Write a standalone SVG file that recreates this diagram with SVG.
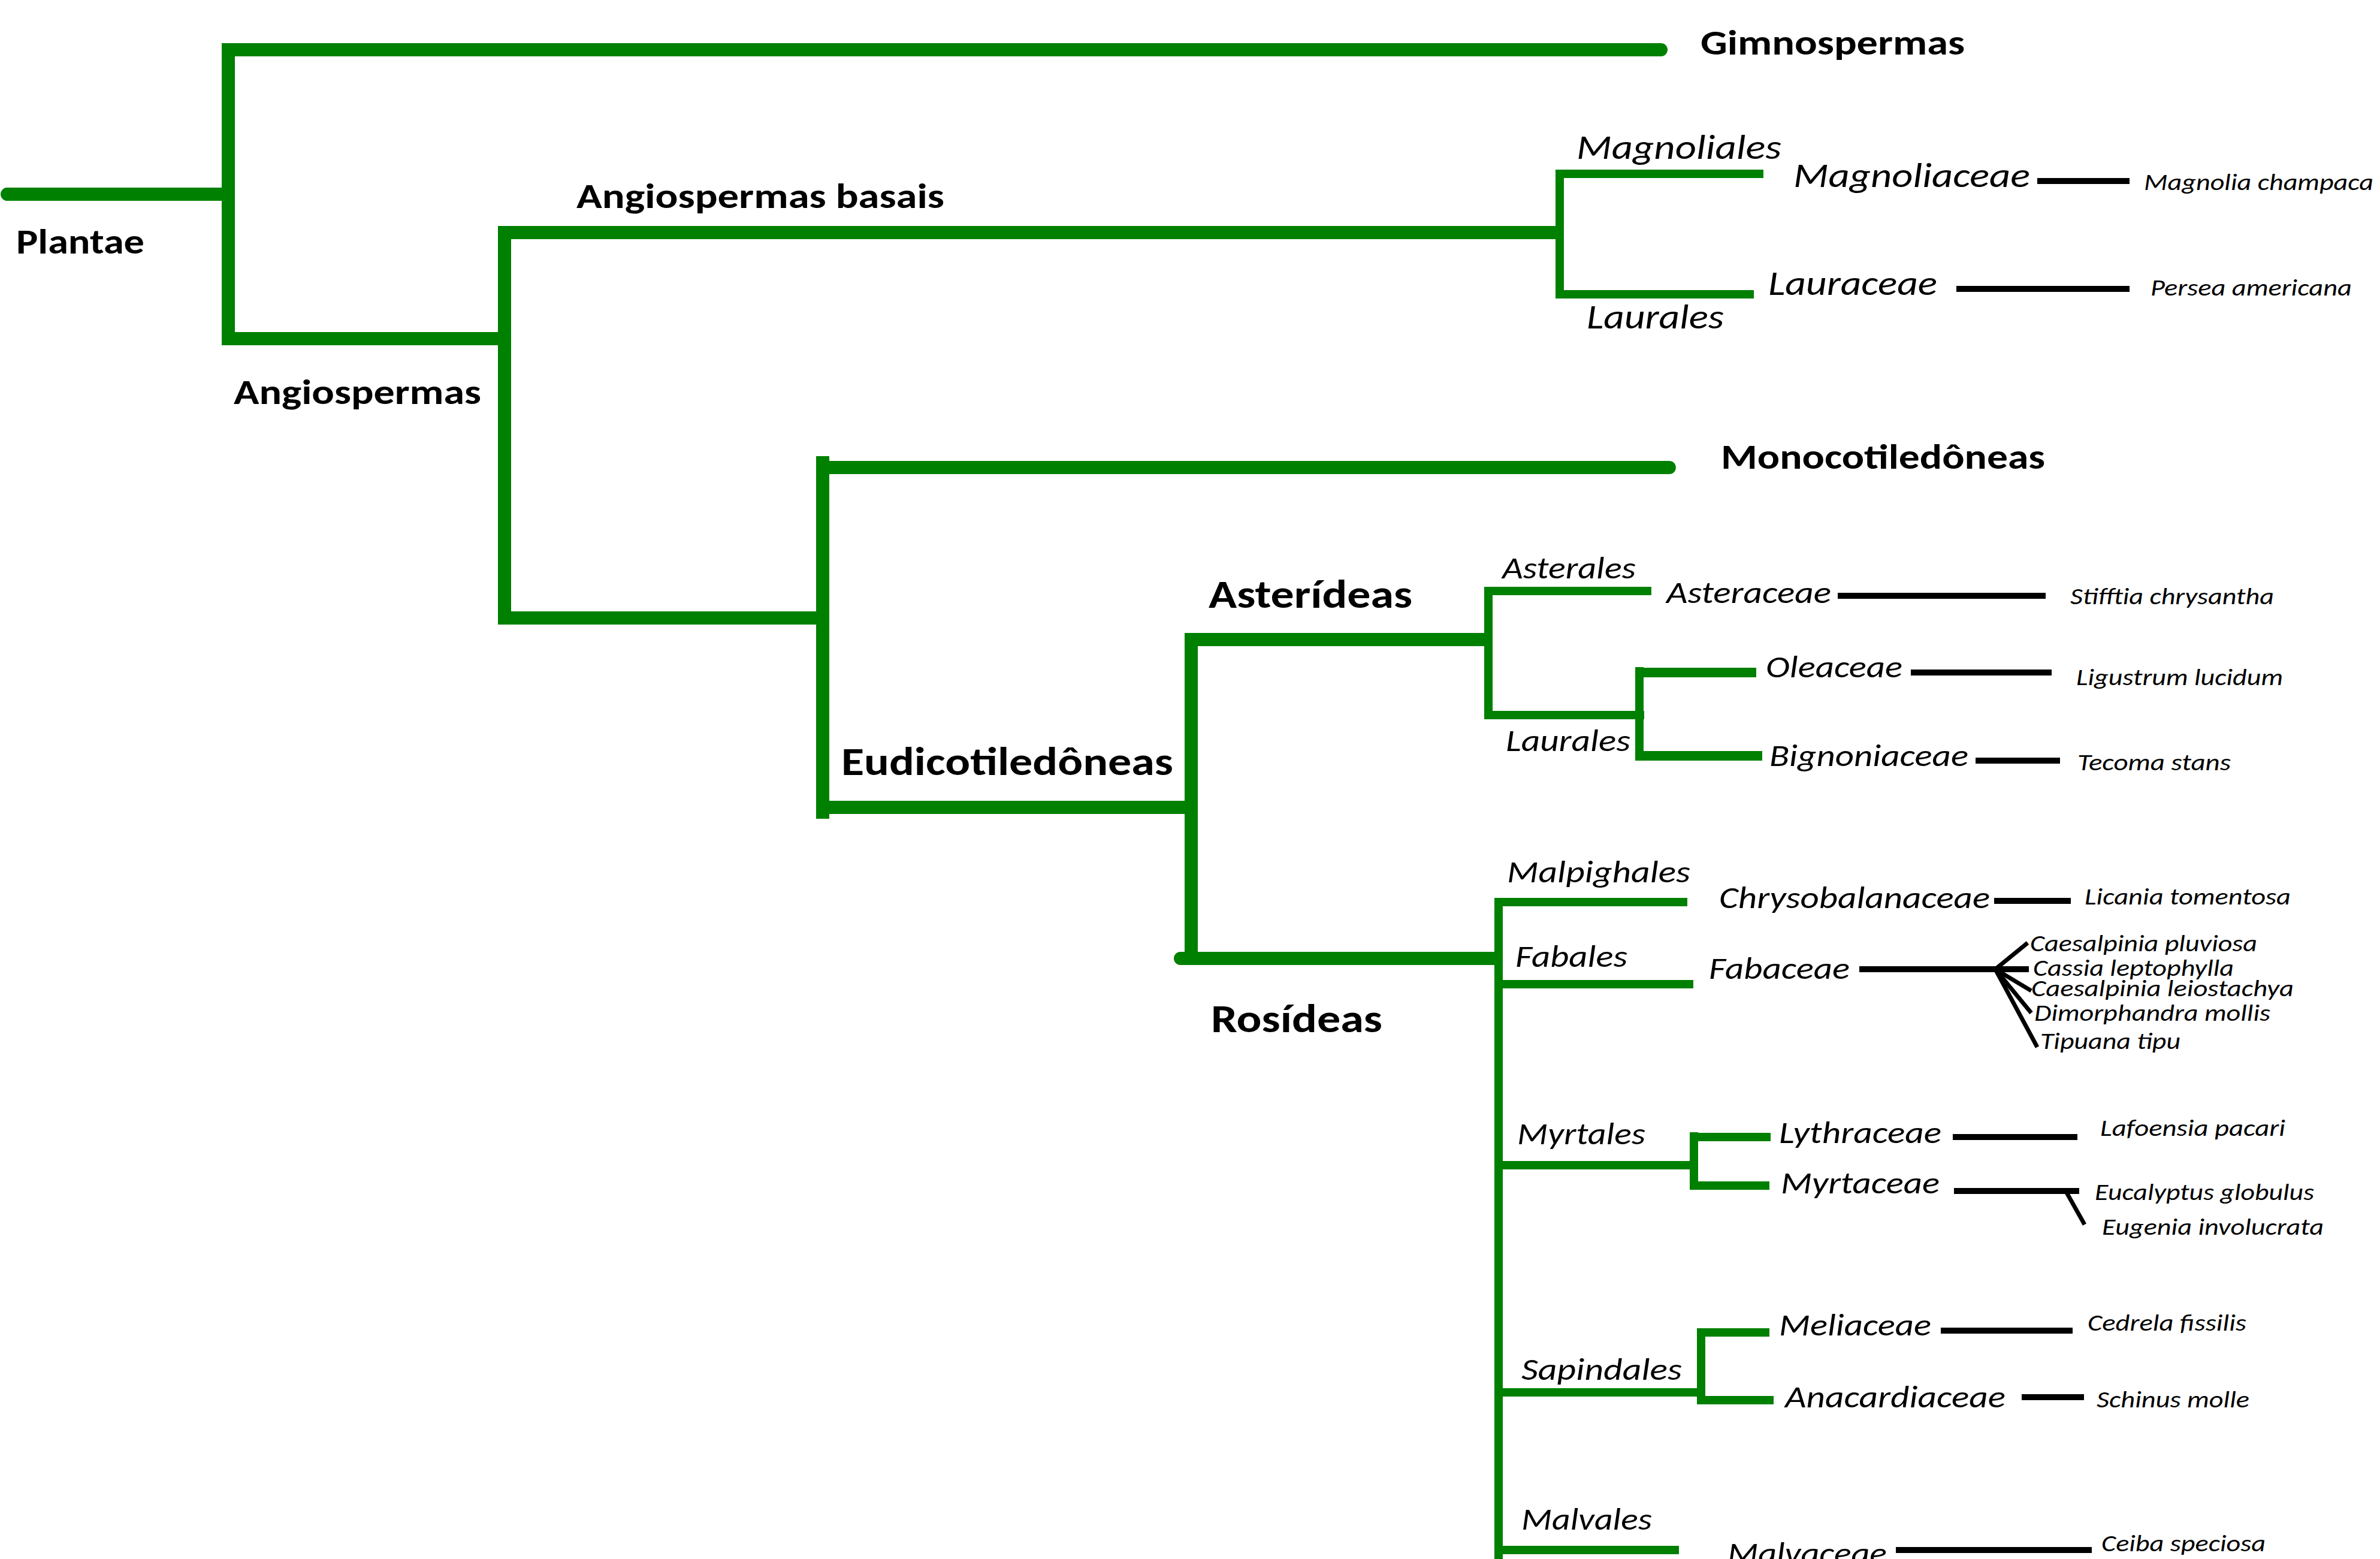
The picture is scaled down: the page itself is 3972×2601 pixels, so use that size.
<svg xmlns="http://www.w3.org/2000/svg" width="3972" height="2601" viewBox="0 0 3972 2601">
<style>
.g1{fill:none;stroke:#008000;stroke-width:22;stroke-linecap:butt}
.g2{fill:none;stroke:#008000;stroke-width:14;stroke-linecap:butt}
.k{fill:none;stroke:#000;stroke-width:10;stroke-linecap:butt}
.kf{fill:none;stroke:#000;stroke-width:7;stroke-linecap:butt}
text{font-family:Carlito,Lato,"Open Sans",sans-serif;fill:#000}
.bA{font-weight:bold;font-size:58px}
.bB{font-weight:bold;font-size:67px}
.iL{font-style:italic;font-size:58px}
.iM{font-style:italic;font-size:51px}
.iS{font-style:italic;font-size:38px}
</style>
<rect width="3972" height="2601" fill="#fff"/>
<g id="connectors">
<path class="g1" d="M9,324H392"/>
<path class="g1" d="M381,72V576"/>
<path class="g1" d="M370,83H2772"/>
<circle cx="2772" cy="83" r="11" fill="#008000"/>
<circle cx="12" cy="324" r="11" fill="#008000"/>
<path class="g1" d="M381,565H853"/>
<path class="g1" d="M842,377V1042"/>
<path class="g1" d="M831,388H2608"/>
<path class="g1" d="M842,1031H1384"/>
<path class="g1" d="M1373,761V1366"/>
<path class="g1" d="M1362,780H2786"/>
<circle cx="2786" cy="780" r="11" fill="#008000"/>
<path class="g1" d="M1373,1347H1999"/>
<path class="g1" d="M1988,1057V1609"/>
<path class="g1" d="M1977,1067H2489"/>
<path class="g1" d="M1970,1599H2507"/>
<circle cx="1970" cy="1599" r="11" fill="#008000"/>
<path class="g2" d="M2603,283V498"/>
<path class="g2" d="M2596,290H2943"/>
<path class="g2" d="M2596,491H2927"/>
<path class="g2" d="M2484,979V1200"/>
<path class="g2" d="M2477,986H2756"/>
<path class="g2" d="M2477,1193H2744"/>
<path class="g2" d="M2736,1113V1268"/>
<path class="g2" d="M2729,1122H2931" style="stroke-width:16"/>
<path class="g2" d="M2729,1261H2941" style="stroke-width:16"/>
<path class="g2" d="M2501,1498V2601"/>
<path class="g2" d="M2494,1505H2816"/>
<path class="g2" d="M2494,1642H2826"/>
<path class="g2" d="M2494,1944H2827"/>
<path class="g2" d="M2827,1889V1985"/>
<path class="g2" d="M2820,1897H2955"/>
<path class="g2" d="M2820,1978H2953"/>
<path class="g2" d="M2494,2323H2839"/>
<path class="g2" d="M2839,2216V2343"/>
<path class="g2" d="M2832,2223H2953"/>
<path class="g2" d="M2832,2336H2960"/>
<path class="g2" d="M2494,2586H2802"/>
<path class="k" d="M3400,302H3554"/>
<path class="k" d="M3265,482H3554"/>
<path class="k" d="M3067,994H3414"/>
<path class="k" d="M3189,1122H3424"/>
<path class="k" d="M3297,1269H3438"/>
<path class="k" d="M3328,1503H3456"/>
<path class="k" d="M3103,1617H3386"/>
<path class="kf" d="M3330,1617L3384,1573"/>
<path class="kf" d="M3330,1617L3390,1653"/>
<path class="kf" d="M3330,1617L3390,1690"/>
<path class="kf" d="M3330,1617L3400,1747"/>
<path class="k" d="M3259,1897H3467"/>
<path class="k" d="M3261,1987H3470"/>
<path class="kf" d="M3448,1988L3479,2043"/>
<path class="k" d="M3239,2220H3459"/>
<path class="k" d="M3374,2331H3478"/>
<path class="k" d="M3164,2586H3491"/>
</g>
<g id="n-gimnospermas"><text class="bA" x="2838" y="91" textLength="441" lengthAdjust="spacingAndGlyphs">Gimnospermas</text></g>
<g id="n-plantae"><text class="bA" x="27" y="423" textLength="214" lengthAdjust="spacingAndGlyphs">Plantae</text></g>
<g id="n-angiospermas-basais"><text class="bA" x="962" y="347" textLength="614" lengthAdjust="spacingAndGlyphs">Angiospermas basais</text></g>
<g id="n-angiospermas"><text class="bA" x="390" y="674" textLength="413" lengthAdjust="spacingAndGlyphs">Angiospermas</text></g>
<g id="n-monocotiledoneas"><text class="bA" x="2872" y="782" textLength="541" lengthAdjust="spacingAndGlyphs">Monocotiledôneas</text></g>
<g id="n-asterideas"><text class="bB" x="2017" y="1014" textLength="340" lengthAdjust="spacingAndGlyphs">Asterídeas</text></g>
<g id="n-eudicotiledoneas"><text class="bB" x="1404" y="1293" textLength="554" lengthAdjust="spacingAndGlyphs">Eudicotiledôneas</text></g>
<g id="n-rosideas"><text class="bB" x="2021" y="1722" textLength="286" lengthAdjust="spacingAndGlyphs">Rosídeas</text></g>
<g id="n-magnoliales"><text class="iL" x="2631" y="265" textLength="342" lengthAdjust="spacingAndGlyphs">Magnoliales</text></g>
<g id="n-magnoliaceae"><text class="iL" x="2993" y="312" textLength="395" lengthAdjust="spacingAndGlyphs">Magnoliaceae</text></g>
<g id="n-magnolia-champaca"><text class="iS" x="3578" y="317" textLength="383" lengthAdjust="spacingAndGlyphs">Magnolia champaca</text></g>
<g id="n-lauraceae"><text class="iL" x="2951" y="492" textLength="282" lengthAdjust="spacingAndGlyphs">Lauraceae</text></g>
<g id="n-persea-americana"><text class="iS" x="3589" y="493" textLength="336" lengthAdjust="spacingAndGlyphs">Persea americana</text></g>
<g id="n-laurales-1"><text class="iL" x="2648" y="548" textLength="229" lengthAdjust="spacingAndGlyphs">Laurales</text></g>
<g id="n-asterales"><text class="iM" x="2507" y="965" textLength="223" lengthAdjust="spacingAndGlyphs">Asterales</text></g>
<g id="n-asteraceae"><text class="iM" x="2781" y="1006" textLength="275" lengthAdjust="spacingAndGlyphs">Asteraceae</text></g>
<g id="n-stifftia"><text class="iS" x="3455" y="1008" textLength="340" lengthAdjust="spacingAndGlyphs">Stifftia chrysantha</text></g>
<g id="n-oleaceae"><text class="iM" x="2947" y="1130" textLength="228" lengthAdjust="spacingAndGlyphs">Oleaceae</text></g>
<g id="n-ligustrum"><text class="iS" x="3465" y="1143" textLength="345" lengthAdjust="spacingAndGlyphs">Ligustrum lucidum</text></g>
<g id="n-laurales-2"><text class="iM" x="2513" y="1253" textLength="208" lengthAdjust="spacingAndGlyphs">Laurales</text></g>
<g id="n-bignoniaceae"><text class="iM" x="2953" y="1278" textLength="332" lengthAdjust="spacingAndGlyphs">Bignoniaceae</text></g>
<g id="n-tecoma"><text class="iS" x="3467" y="1285" textLength="256" lengthAdjust="spacingAndGlyphs">Tecoma stans</text></g>
<g id="n-malpighales"><text class="iM" x="2515" y="1472" textLength="306" lengthAdjust="spacingAndGlyphs">Malpighales</text></g>
<g id="n-chrysobalanaceae"><text class="iM" x="2869" y="1515" textLength="452" lengthAdjust="spacingAndGlyphs">Chrysobalanaceae</text></g>
<g id="n-licania"><text class="iS" x="3479" y="1509" textLength="344" lengthAdjust="spacingAndGlyphs">Licania tomentosa</text></g>
<g id="n-fabales"><text class="iM" x="2529" y="1613" textLength="187" lengthAdjust="spacingAndGlyphs">Fabales</text></g>
<g id="n-fabaceae"><text class="iM" x="2852" y="1633" textLength="235" lengthAdjust="spacingAndGlyphs">Fabaceae</text></g>
<g id="n-caesalpinia-pluviosa"><text class="iS" x="3388" y="1587" textLength="379" lengthAdjust="spacingAndGlyphs">Caesalpinia pluviosa</text></g>
<g id="n-cassia"><text class="iS" x="3393" y="1628" textLength="335" lengthAdjust="spacingAndGlyphs">Cassia leptophylla</text></g>
<g id="n-caesalpinia-leiostachya"><text class="iS" x="3390" y="1662" textLength="438" lengthAdjust="spacingAndGlyphs">Caesalpinia leiostachya</text></g>
<g id="n-dimorphandra"><text class="iS" x="3395" y="1703" textLength="394" lengthAdjust="spacingAndGlyphs">Dimorphandra mollis</text></g>
<g id="n-tipuana"><text class="iS" x="3405" y="1750" textLength="234" lengthAdjust="spacingAndGlyphs">Tipuana tipu</text></g>
<g id="n-myrtales"><text class="iM" x="2532" y="1909" textLength="214" lengthAdjust="spacingAndGlyphs">Myrtales</text></g>
<g id="n-lythraceae"><text class="iM" x="2969" y="1907" textLength="271" lengthAdjust="spacingAndGlyphs">Lythraceae</text></g>
<g id="n-lafoensia"><text class="iS" x="3505" y="1895" textLength="309" lengthAdjust="spacingAndGlyphs">Lafoensia pacari</text></g>
<g id="n-myrtaceae"><text class="iM" x="2972" y="1991" textLength="265" lengthAdjust="spacingAndGlyphs">Myrtaceae</text></g>
<g id="n-eucalyptus"><text class="iS" x="3496" y="2002" textLength="366" lengthAdjust="spacingAndGlyphs">Eucalyptus globulus</text></g>
<g id="n-eugenia"><text class="iS" x="3508" y="2060" textLength="370" lengthAdjust="spacingAndGlyphs">Eugenia involucrata</text></g>
<g id="n-sapindales"><text class="iM" x="2539" y="2302" textLength="268" lengthAdjust="spacingAndGlyphs">Sapindales</text></g>
<g id="n-meliaceae"><text class="iM" x="2969" y="2228" textLength="254" lengthAdjust="spacingAndGlyphs">Meliaceae</text></g>
<g id="n-cedrela"><text class="iS" x="3484" y="2220" textLength="265" lengthAdjust="spacingAndGlyphs">Cedrela fissilis</text></g>
<g id="n-anacardiaceae"><text class="iM" x="2979" y="2348" textLength="368" lengthAdjust="spacingAndGlyphs">Anacardiaceae</text></g>
<g id="n-schinus"><text class="iS" x="3499" y="2348" textLength="255" lengthAdjust="spacingAndGlyphs">Schinus molle</text></g>
<g id="n-malvales"><text class="iM" x="2539" y="2552" textLength="218" lengthAdjust="spacingAndGlyphs">Malvales</text></g>
<g id="n-malvaceae"><text class="iM" x="2883" y="2609" textLength="266" lengthAdjust="spacingAndGlyphs">Malvaceae</text></g>
<g id="n-ceiba"><text class="iS" x="3507" y="2588" textLength="274" lengthAdjust="spacingAndGlyphs">Ceiba speciosa</text></g>
</svg>
